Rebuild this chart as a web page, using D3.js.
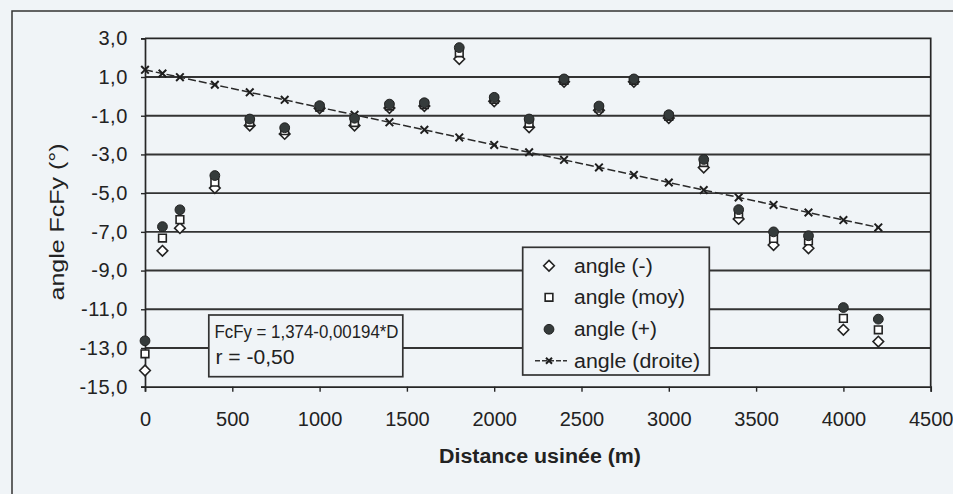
<!DOCTYPE html>
<html><head><meta charset="utf-8">
<script src="https://cdn.jsdelivr.net/npm/d3@7"></script>
<style>
html,body{margin:0;padding:0;background:#f0f4f7;}
svg{display:block;}
text{font-family:Arial,"Liberation Sans",sans-serif;fill:#222;}
</style></head><body>
<svg id="c" width="953" height="494"></svg>
<script>
const distances = [0,100,200,400,600,800,1000,1200,1400,1600,1800,2000,2200,2400,2600,2800,3000,3200,3400,3600,3800,4000,4200];
const angleMinus = [-14.16,-7.98,-6.81,-4.74,-1.51,-1.94,-0.62,-1.51,-0.6,-0.5,1.93,-0.25,-1.6,0.75,-0.72,0.75,-1.12,-3.68,-6.33,-7.68,-7.85,-12.06,-12.67];
const angleMoy = [-13.3,-7.32,-6.37,-4.43,-1.34,-1.77,-0.55,-1.35,-0.5,-0.42,2.25,-0.15,-1.39,0.83,-0.61,0.83,-1.03,-3.42,-6.07,-7.34,-7.47,-11.47,-12.06];
const anglePlus = [-12.63,-6.73,-5.86,-4.09,-1.17,-1.62,-0.48,-1.13,-0.4,-0.33,2.52,-0.05,-1.17,0.9,-0.5,0.9,-0.95,-3.26,-5.85,-7.0,-7.2,-10.91,-11.51];
const angleDroite = [1.37,1.18,0.99,0.6,0.21,-0.18,-0.57,-0.95,-1.34,-1.73,-2.12,-2.51,-2.89,-3.28,-3.67,-4.06,-4.45,-4.84,-5.22,-5.61,-6.0,-6.39,-6.77];
const xTicks = [0,500,1000,1500,2000,2500,3000,3500,4000,4500];
const yTicks = [3,1,-1,-3,-5,-7,-9,-11,-13,-15];
const legendLabels = ["angle (-)","angle (moy)","angle (+)","angle (droite)"];
const equationLines = ["FcFy = 1,374-0,00194*D","r = -0,50"];
const xTitle = "Distance usinée (m)";
const yTitle = "angle FcFy (°)";

const svg = d3.select("#c");
const ink = "#262626";
const bg = "#f0f4f7";
const L=145, R=930.7, T=38.3, B=386.7;
const x = d3.scaleLinear().domain([0,4500]).range([L,R]);
const y = d3.scaleLinear().domain([-15,3]).range([B,T]);
const fmt = v => d3.format(".1f")(v).replace(".",",").replace("−","-");

// outer frame
svg.append("rect").attr("x",12).attr("y",11).attr("width",1000).attr("height",600)
  .attr("fill","none").attr("stroke","#333").attr("stroke-width",1.5);

// gridlines
svg.append("g").selectAll("line").data(yTicks.filter(v=>v>-15 && v<3)).join("line")
  .attr("x1",L).attr("x2",R).attr("y1",d=>y(d)).attr("y2",d=>y(d))
  .attr("stroke","#333").attr("stroke-width",1.9);

// plot border top/right
svg.append("path").attr("d",`M${L},${T}H${R}V${B}`).attr("fill","none").attr("stroke",ink).attr("stroke-width",1.7);

// axes
const yAxis = d3.axisLeft(y).tickValues(yTicks).tickSize(4).tickPadding(13).tickFormat(fmt);
const gy = svg.append("g").attr("transform",`translate(${L},0)`).call(yAxis);
gy.select(".domain").attr("stroke",ink).attr("stroke-width",1.7);
gy.selectAll(".tick line").attr("stroke",ink).attr("stroke-width",1.4);
gy.selectAll(".tick text").attr("font-size",20).attr("letter-spacing",0.6).attr("fill","#222")
  .style("font-family","Arial, 'Liberation Sans', sans-serif");

const xAxis = d3.axisBottom(x).tickValues(xTicks).tickSize(5).tickPadding(20).tickFormat(d=>String(d));
const gx = svg.append("g").attr("transform",`translate(0,${B})`).call(xAxis);
gx.select(".domain").attr("stroke",ink).attr("stroke-width",1.7);
gx.selectAll(".tick line").attr("stroke",ink).attr("stroke-width",1.4);
gx.selectAll(".tick text").attr("font-size",20).attr("fill","#222")
  .style("font-family","Arial, 'Liberation Sans', sans-serif");

// titles
svg.append("text").attr("x",540).attr("y",463).attr("text-anchor","middle")
  .attr("font-size",19.5).attr("font-weight","bold").attr("textLength",202).attr("lengthAdjust","spacingAndGlyphs").text(xTitle);
svg.append("text").attr("transform","translate(64,222) rotate(-90)").attr("text-anchor","middle")
  .attr("font-size",20).attr("textLength",157).attr("lengthAdjust","spacingAndGlyphs").text(yTitle);

// trend line
const pts = distances.map((d,i)=>({d,v:angleDroite[i]}));
svg.append("path").datum(pts).attr("fill","none").attr("stroke","#2a2a2a").attr("stroke-width",1.5)
  .attr("stroke-dasharray","8,3")
  .attr("d",d3.line().x(p=>x(p.d)).y(p=>y(p.v)));
const xMark = (g,s)=>g.append("path").attr("d",`M${-s},${-s}L${s},${s}M${-s},${s}L${s},${-s}`)
  .attr("stroke","#1e1e1e").attr("stroke-width",2).attr("fill","none");
svg.append("g").selectAll("g").data(pts).join("g")
  .attr("transform",p=>`translate(${x(p.d)},${y(p.v)})`).each(function(){xMark(d3.select(this),3.8);});

// markers
const diamond = d3.symbol().type(d3.symbolDiamond2).size(72);
const square = d3.symbol().type(d3.symbolSquare2).size(75);
svg.append("g").selectAll("path").data(distances.map((d,i)=>({d,v:angleMinus[i]}))).join("path")
  .attr("d",diamond).attr("transform",p=>`translate(${x(p.d)},${y(p.v)})`)
  .attr("fill","#fff").attr("stroke","#222").attr("stroke-width",1.6);
svg.append("g").selectAll("path").data(distances.map((d,i)=>({d,v:angleMoy[i]}))).join("path")
  .attr("d",square).attr("transform",p=>`translate(${x(p.d)},${y(p.v)})`)
  .attr("fill","#fff").attr("stroke","#222").attr("stroke-width",1.6);
svg.append("g").selectAll("circle").data(distances.map((d,i)=>({d,v:anglePlus[i]}))).join("circle")
  .attr("cx",p=>x(p.d)).attr("cy",p=>y(p.v)).attr("r",4.9)
  .attr("fill","#353b3b").attr("stroke","#222").attr("stroke-width",1);

// legend
const lg = svg.append("g");
lg.append("rect").attr("x",522.7).attr("y",247.3).attr("width",186.6).attr("height",127.7)
  .attr("fill",bg).attr("stroke","#333").attr("stroke-width",1.7);
const ly = [265.7,297.3,329.3,360.7];
lg.append("path").attr("d",diamond).attr("transform",`translate(549,${ly[0]})`).attr("fill","#fff").attr("stroke","#222").attr("stroke-width",1.6);
lg.append("path").attr("d",square).attr("transform",`translate(549,${ly[1]})`).attr("fill","#fff").attr("stroke","#222").attr("stroke-width",1.6);
lg.append("circle").attr("cx",549).attr("cy",ly[2]).attr("r",4.9).attr("fill","#353b3b").attr("stroke","#222");
lg.append("line").attr("x1",535).attr("x2",567).attr("y1",ly[3]).attr("y2",ly[3]).attr("stroke","#333").attr("stroke-width",1.4).attr("stroke-dasharray","5,2");
xMark(lg.append("g").attr("transform",`translate(549,${ly[3]})`),3);
const lw = [78.7,111,83,126];
lg.selectAll("text").data(legendLabels).join("text")
  .attr("x",574).attr("y",(d,i)=>ly[i]).attr("dy","0.35em").attr("font-size",20)
  .attr("textLength",(d,i)=>lw[i]).attr("lengthAdjust","spacingAndGlyphs").text(d=>d);

// equation box
const eg = svg.append("g");
eg.append("rect").attr("x",208.8).attr("y",315).attr("width",194).attr("height",61.7)
  .attr("fill",bg).attr("stroke","#333").attr("stroke-width",1.7);
eg.append("text").attr("x",214.5).attr("y",338).attr("font-size",19).attr("textLength",184).attr("lengthAdjust","spacingAndGlyphs").text(equationLines[0]);
eg.append("text").attr("x",215.5).attr("y",364).attr("font-size",19.5).attr("textLength",79).attr("lengthAdjust","spacingAndGlyphs").text(equationLines[1]);
</script></body></html>
